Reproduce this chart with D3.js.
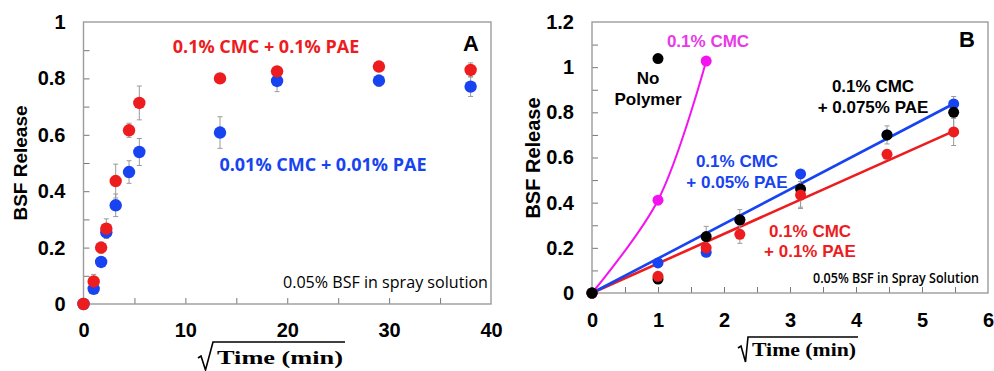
<!DOCTYPE html>
<html><head><meta charset="utf-8">
<script src="https://cdn.jsdelivr.net/npm/d3@7"></script>
<style>
html,body{margin:0;padding:0;background:#fff;}
svg{display:block;}
</style></head><body>
<svg id="chart" width="994" height="371"></svg>
<script>
// ---- Panel A: release vs sqrt(time) for two CMC/PAE concentrations ----
const sqrtTimeA = [0, 1, 1.73, 2.24, 3.16, 4.47, 5.48, 13.4, 19.0, 29.0, 38.0];
const releaseA_high = [0, 0.08, 0.20, 0.267, 0.436, 0.616, 0.713, 0.80, 0.825, 0.842, 0.83];
const errA_high     = [0, 0.025, 0.02, 0.035, 0.06, 0.025, 0.06, 0.01, 0.015, 0.015, 0.025];
const releaseA_low  = [0, 0.054, 0.149, 0.254, 0.35, 0.468, 0.539, 0.608, 0.791, 0.792, 0.771];
const errA_low      = [0, 0.01, 0.01, 0.02, 0.04, 0.04, 0.048, 0.056, 0.038, 0.02, 0.035];
const xTicksA = [0, 10, 20, 30, 40];
const xMinorA = [5, 10, 15, 20, 25, 30, 35];
const yTicksA = [0, 0.2, 0.4, 0.6, 0.8, 1];
const yMinorA = [0.1, 0.2, 0.3, 0.4, 0.5, 0.6, 0.7, 0.8, 0.9];

// ---- Panel B: early release for different PAE levels ----
const sqrtTimeB = [0, 1, 1.73, 2.24, 3.16, 4.47, 5.48];
const releaseB_noPolymer = [0, 1.038];          // first two times
const releaseB_cmc       = [0, 0.411, 1.027];   // first three times
const releaseB_pae05     = [0, 0.133, 0.18, 0.324, 0.527, 0.70, 0.837];
const releaseB_pae075    = [0, 0.062, 0.25, 0.324, 0.46, 0.70, 0.80];
const releaseB_pae10     = [0, 0.074, 0.20, 0.26, 0.434, 0.614, 0.713];
const errB_pae05         = [0, 0.01, 0.01, 0.02, 0.02, 0.02, 0.02];
const errB_pae075        = [0, 0.02, 0.045, 0.045, 0.08, 0.04, 0.07];
const errB_pae10         = [0, 0.01, 0.02, 0.04, 0.06, 0.02, 0.06];
const xTicksB = [0, 1, 2, 3, 4, 5, 6];
const xMinorB = [0.5, 1, 1.5, 2, 2.5, 3, 3.5, 4, 4.5, 5, 5.5];
const yTicksB = [0, 0.2, 0.4, 0.6, 0.8, 1, 1.2];
const yMinorB = [0.1, 0.2, 0.3, 0.4, 0.5, 0.6, 0.7, 0.8, 0.9, 1, 1.1];

const RED = "#ec1c1f", BLUE = "#1743f0", MAG = "#f412f0", MAGTXT = "#e83ae8", BLK = "#000";
const ERR = "#9a9a9a", FRAME = "#9c9c9c";
const SANS = "'Liberation Sans', Arial, sans-serif";
const HUMAN = "'Open Sans', sans-serif";
const SERIF = "'Liberation Serif', 'Times New Roman', serif";

const svg = d3.select("#chart");
svg.append("rect").attr("width", 994).attr("height", 371).attr("fill", "#fff");

function zip(xs, ys, es) {
  return ys.map((v, i) => ({x: xs[i], y: v, e: es ? es[i] : 0}));
}

function drawFrame(g, x, y, xTicks, xMinor, yTicks, yMinor, xPad) {
  const [x0, x1] = x.range(), [y0, y1] = y.range();
  // inward minor ticks
  const ly = g.append("g").attr("transform", `translate(${x0},0)`)
    .call(d3.axisLeft(y).tickValues(yMinor).tickSize(-6).tickFormat(""));
  const lx = g.append("g").attr("transform", `translate(0,${y0})`)
    .call(d3.axisBottom(x).tickValues(xMinor).tickSize(-6).tickFormat(""));
  [ly, lx].forEach(a => {
    a.select(".domain").remove();
    a.selectAll("line").attr("stroke", "#777").attr("stroke-width", 1);
  });
  // tick labels
  const ty = g.append("g").attr("transform", `translate(${x0},0)`)
    .call(d3.axisLeft(y).tickValues(yTicks).tickSize(0).tickPadding(18).tickFormat(d3.format("~g")));
  const tx = g.append("g").attr("transform", `translate(0,${y0})`)
    .call(d3.axisBottom(x).tickValues(xTicks).tickSize(0).tickPadding(xPad).tickFormat(d3.format("~g")));
  [ty, tx].forEach(a => {
    a.select(".domain").remove();
    a.selectAll("text").attr("font-family", SANS).attr("font-weight", "bold")
      .attr("font-size", 20).attr("fill", "#000");
  });
  // plot frame
  g.append("rect").attr("x", x0).attr("y", y1).attr("width", x1 - x0).attr("height", y0 - y1)
    .attr("fill", "none").attr("stroke", FRAME).attr("stroke-width", 1.4);
}

function drawErrors(g, x, y, pts) {
  pts.filter(d => d.e > 0).forEach(d => {
    const px = x(d.x), a = y(d.y - d.e), b = y(d.y + d.e);
    g.append("line").attr("x1", px).attr("x2", px).attr("y1", a).attr("y2", b)
      .attr("stroke", ERR).attr("stroke-width", 1);
    [a, b].forEach(yy => g.append("line").attr("x1", px - 2.5).attr("x2", px + 2.5)
      .attr("y1", yy).attr("y2", yy).attr("stroke", ERR).attr("stroke-width", 1));
  });
}

function drawDots(g, x, y, pts, color, r) {
  g.selectAll(null).data(pts).join("circle")
    .attr("cx", d => x(d.x)).attr("cy", d => y(d.y)).attr("r", r).attr("fill", color);
}

function yLabel(g, cx, cy, size) {
  g.append("text").attr("transform", `translate(${cx},${cy}) rotate(-90)`)
    .attr("text-anchor", "middle").attr("dominant-baseline", "central")
    .attr("font-family", SANS).attr("font-weight", "bold").attr("font-size", size)
    .text("BSF Release");
}

// sqrt(Time (min)) label: radical sign with overbar and serif text
function sqrtLabel(g, x0, textX, textEnd, baseline, barY, hookY, bottomY) {
  g.append("text").attr("x", textX).attr("y", baseline)
    .attr("font-family", SERIF).attr("font-weight", "bold").attr("font-size", 19)
    .attr("textLength", textEnd - textX).attr("lengthAdjust", "spacingAndGlyphs")
    .text("Time (min)");
  const kx = textX - 4;
  g.append("path")
    .attr("d", `M${x0},${hookY} L${x0 + 3},${hookY - 2} L${x0 + 7.5},${bottomY} L${kx},${barY} L${textEnd + 2},${barY}`)
    .attr("fill", "none").attr("stroke", "#000").attr("stroke-width", 1.6)
    .attr("stroke-linejoin", "miter");
}

function annot(g, x, y, str, color, size, family, weight, anchor, width) {
  const t = g.append("text").attr("x", x).attr("y", y).attr("fill", color)
    .attr("font-family", family).attr("font-weight", weight).attr("font-size", size)
    .attr("text-anchor", anchor || "middle").text(str);
  if (width) t.attr("textLength", width).attr("lengthAdjust", "spacingAndGlyphs");
  return t;
}

// ================= Panel A =================
{
  const g = svg.append("g");
  const x = d3.scaleLinear().domain([0, 40]).range([83.5, 491]);
  const y = d3.scaleLinear().domain([0, 1]).range([304, 22]);
  drawFrame(g, x, y, xTicksA, xMinorA, yTicksA, yMinorA, 19);

  const low = zip(sqrtTimeA, releaseA_low, errA_low);
  const high = zip(sqrtTimeA, releaseA_high, errA_high);
  drawErrors(g, x, y, low);
  drawErrors(g, x, y, high);
  drawDots(g, x, y, low, BLUE, 6.2);
  drawDots(g, x, y, high, RED, 6.2);

  annot(g, 266, 53, "0.1% CMC + 0.1% PAE", RED, 18, HUMAN, "bold");
  annot(g, 323, 171, "0.01% CMC + 0.01% PAE", BLUE, 18, HUMAN, "bold");
  annot(g, 471, 51, "A", BLK, 22, SANS, "bold");
  annot(g, 283, 288, "0.05% BSF in spray solution", BLK, 15.5, HUMAN, "normal", "start", 205);

  yLabel(g, 20, 163, 19);
  sqrtLabel(g, 198, 217, 343, 364, 342, 358, 370);
}

// ================= Panel B =================
{
  const g = svg.append("g");
  const x = d3.scaleLinear().domain([0, 6]).range([592, 988]);
  const y = d3.scaleLinear().domain([0, 1.2]).range([293, 22]);
  drawFrame(g, x, y, xTicksB, xMinorB, yTicksB, yMinorB, 19.5);

  const noPoly = zip(sqrtTimeB, releaseB_noPolymer);
  const cmc = zip(sqrtTimeB, releaseB_cmc);
  const p05 = zip(sqrtTimeB, releaseB_pae05, errB_pae05);
  const p075 = zip(sqrtTimeB, releaseB_pae075, errB_pae075);
  const p10 = zip(sqrtTimeB, releaseB_pae10, errB_pae10);

  // smooth curve through the CMC-only points
  g.append("path").datum(cmc)
    .attr("d", d3.line().x(d => x(d.x)).y(d => y(d.y)).curve(d3.curveCatmullRom.alpha(0.5)))
    .attr("fill", "none").attr("stroke", MAG).attr("stroke-width", 2);

  // least-squares lines through the origin
  function fitLine(pts, color) {
    const s = d3.sum(pts, d => d.x * d.y) / d3.sum(pts, d => d.x * d.x);
    const xm = d3.max(pts, d => d.x);
    g.append("line").attr("x1", x(0)).attr("y1", y(0)).attr("x2", x(xm)).attr("y2", y(s * xm))
      .attr("stroke", color).attr("stroke-width", 2.6);
  }
  fitLine(p10, RED);
  fitLine(p05, BLUE);

  drawErrors(g, x, y, p05);
  drawErrors(g, x, y, p075);
  drawErrors(g, x, y, p10);
  drawDots(g, x, y, cmc, MAG, 5.5);
  drawDots(g, x, y, p05, BLUE, 5.5);
  drawDots(g, x, y, p075, BLK, 5.5);
  drawDots(g, x, y, p10, RED, 5.5);
  drawDots(g, x, y, noPoly, BLK, 5.5);

  annot(g, 708, 47, "0.1% CMC", MAGTXT, 17, SANS, "bold");
  annot(g, 648, 84, "No", BLK, 17, SANS, "bold");
  annot(g, 648, 105, "Polymer", BLK, 17, SANS, "bold");
  annot(g, 873, 92, "0.1% CMC", BLK, 17, SANS, "bold");
  annot(g, 873, 113, "+ 0.075% PAE", BLK, 17, SANS, "bold");
  annot(g, 737, 167, "0.1% CMC", BLUE, 17, SANS, "bold");
  annot(g, 737, 188, "+ 0.05% PAE", BLUE, 17, SANS, "bold");
  annot(g, 810, 237, "0.1% CMC", RED, 17, SANS, "bold");
  annot(g, 810, 257, "+ 0.1% PAE", RED, 17, SANS, "bold");
  annot(g, 967, 47, "B", BLK, 22, SANS, "bold");
  annot(g, 813, 283, "0.05% BSF in Spray Solution", BLK, 13.5, HUMAN, "600", "start", 166);

  yLabel(g, 533, 158, 20);
  sqrtLabel(g, 738, 752, 856, 356, 337, 348, 362);
}
</script>
</body></html>
